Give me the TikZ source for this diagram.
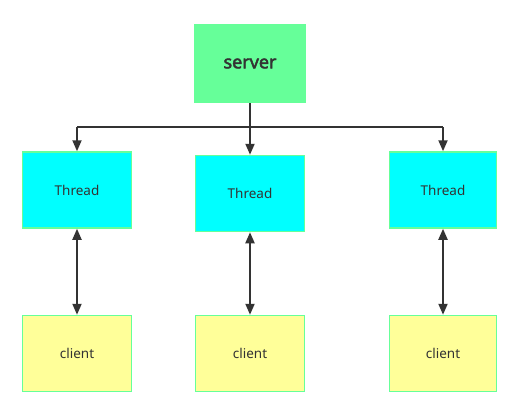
\documentclass[tikz,border=0pt]{standalone}
\usepackage{fontspec}
\setmainfont{Noto Sans}[AutoFakeBold=2.5]
\usetikzlibrary{arrows.meta}
\definecolor{srvgreen}{HTML}{66FF99}
\definecolor{thrcyan}{HTML}{00FFFF}
\definecolor{cliyellow}{HTML}{FFFF99}
\definecolor{edgegreen}{HTML}{66FF99}
\definecolor{ink}{HTML}{333333}
\begin{document}
\begin{tikzpicture}[x=1pt,y=1pt,
  serverbox/.style={fill=srvgreen,draw=none,minimum width=112pt,minimum height=79pt,inner sep=0pt,text=ink,font=\fontsize{18}{20}\selectfont\bfseries},
  threadbox/.style={fill=thrcyan,draw=edgegreen,line width=1.5pt,minimum width=109pt,minimum height=76pt,inner sep=0pt,text=ink,font=\fontsize{13.5}{15}\selectfont},
  clientbox/.style={fill=cliyellow,draw=edgegreen,line width=1.5pt,minimum width=109pt,minimum height=76pt,inner sep=0pt,text=ink,font=\fontsize{13.5}{15}\selectfont},
  conn/.style={draw=ink,line width=2pt},
  tip/.style={-{Triangle[length=11pt,width=9pt]}},
  dtip/.style={{Triangle[length=11pt,width=9pt]}-{Triangle[length=11pt,width=9pt]}}
]
\useasboundingbox (0,0) rectangle (511,-401);
\node[serverbox] (server) at (250,-63.5) {server};
\node[threadbox] (tL) at (77,-190) {Thread};
\node[threadbox] (tM) at (250,-193.5) {Thread};
\node[threadbox,minimum width=107pt] (tR) at (443,-190) {Thread};
\node[clientbox] (cL) at (77,-353.5) {client};
\node[clientbox] (cM) at (250,-353.5) {client};
\node[clientbox,minimum width=107pt] (cR) at (443,-353.5) {client};
\coordinate (j) at (250,-127.5);
\coordinate (jL) at (77,-127.5);
\coordinate (jR) at (443,-127.5);
\draw[conn,line cap=butt] (jL) -- (jR);
\draw[conn,tip] (server.south) -- (tM.north);
\draw[conn,tip] (jL) -- (tL.north);
\draw[conn,tip] (jR) -- (tR.north);
\draw[conn,dtip] (tL.south) -- (cL.north);
\draw[conn,dtip] (tM.south) -- (cM.north);
\draw[conn,dtip] (tR.south) -- (cR.north);
\end{tikzpicture}
\end{document}
